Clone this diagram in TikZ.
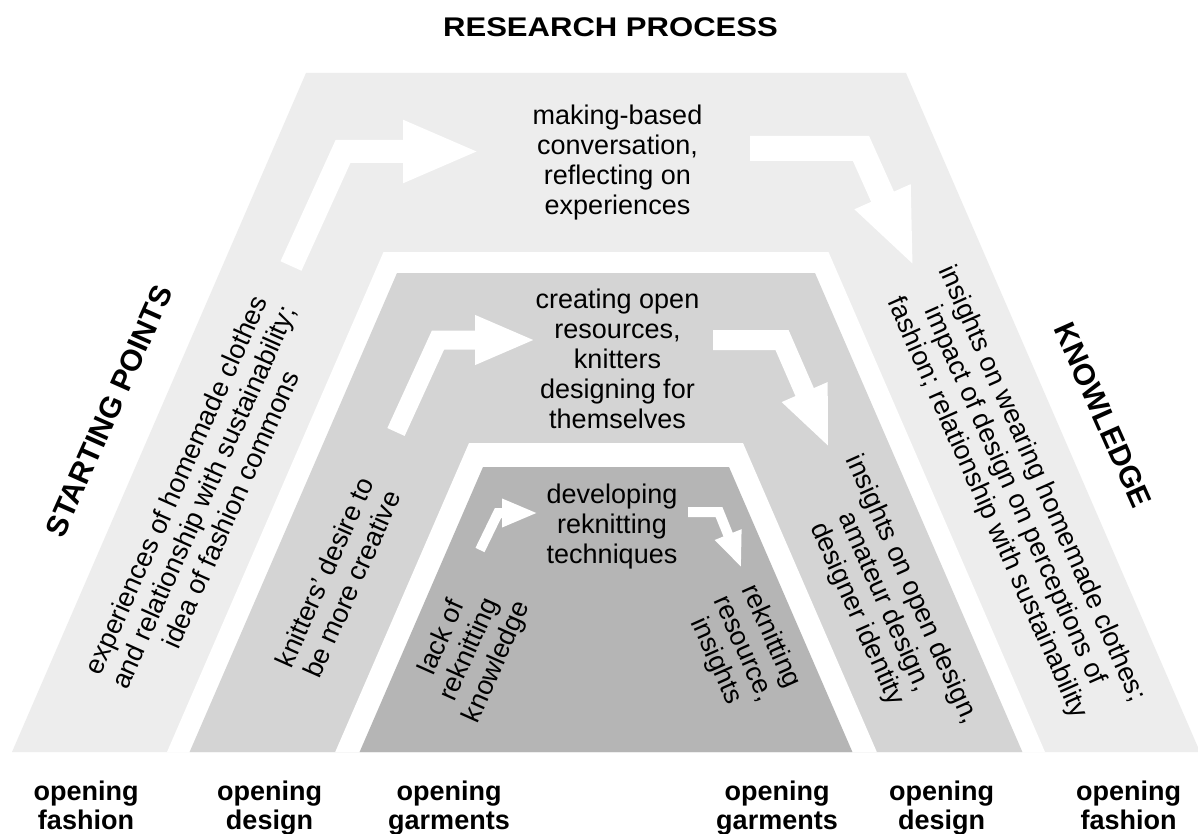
\documentclass[tikz,border=0pt]{standalone}
\usepackage{fontspec}
\setmainfont{Liberation Sans}
\newfontfamily\titlefont[FakeStretch=1.15]{Liberation Sans}
\usepackage{tikz}
\usetikzlibrary{arrows.meta}
\definecolor{bandlight}{gray}{0.93}
\definecolor{bandmid}{gray}{0.83}
\definecolor{banddark}{gray}{0.71}

\begin{document}
\begin{tikzpicture}[x=1pt,y=-1pt,
  txt/.style={font=\fontsize{27}{30}\selectfont,align=center,inner sep=0pt},
  heading/.style={font=\fontsize{27}{29}\selectfont\bfseries,align=center,inner sep=0pt},
  side/.style={font=\fontsize{30}{32}\selectfont\bfseries,inner sep=0pt},
  rise/.style={rotate=66},
  fall/.style={rotate=-66},
  flow/.style={white,line width=#1,line join=miter}]
  \useasboundingbox[fill=white] (0,0) rectangle (1198,834);
  %bands, outside in
  \fill[bandlight] (306,73) -- (906,73) -- (1200,752) -- (12,752) -- cycle;
  \fill[white] (383.5,252) -- (828.5,252) -- (1045,752) -- (167,752) -- cycle;
  \fill[bandmid] (397,273) -- (815,273) -- (1022.4,752) -- (189.6,752) -- cycle;
  \fill[white] (469,443) -- (743,443) -- (876.8,752) -- (335.2,752) -- cycle;
  \fill[banddark] (483,467) -- (729,467) -- (852.4,752) -- (359.6,752) -- cycle;

  %title
  \node[heading,font=\titlefont\bfseries\fontsize{27}{29}\selectfont,anchor=base] (process) at (610.5,37) {RESEARCH PROCESS};

  %process texts
  \node[txt] (conv) at (617.5,163) {making-based\\conversation,\\reflecting on\\experiences};
  \node[txt] (open) at (617.5,358.5) {creating open\\resources,\\knitters\\designing for\\themselves};
  \node[txt] (tech) at (612,527) {developing\\reknitting\\techniques};

  %left
  \node[side,rise] (start) at (109,411) {STARTING POINTS};
  \node[txt,rise] (homemade) at (203,497) {experiences of homemade clothes\\and relationship with sustainability;\\idea of fashion commons};
  \node[txt,rise] (desire) at (338,578) {knitters' desire to\\be more creative};
  \node[txt,rise] (lack) at (470,650) {lack of\\reknitting\\knowledge};

  %right
  \node[side,fall] (know) at (1103,415) {KNOWLEDGE};
  \node[txt,fall] (wearing) at (1014,496) {insights on wearing homemade clothes;\\impact of design on perceptions of\\fashion; relationship with sustainability};
  \node[txt,fall] (amateur) at (884,602) {insights on open design,\\amateur design,\\designer identity};
  \node[txt,fall] (resource) at (743,649) {reknitting\\resource,\\insights};

  %arrows
  \coordinate (conv-in) at (291,266);
  \coordinate (conv-bend) at (343,151.5);
  \coordinate (conv-tip) at (480,151.5);
  \draw[flow=23pt,-{Triangle[length=77pt,width=57pt]}] (conv-in) -- (conv-bend) -- (conv-tip);
  \coordinate (wear-in) at (750,148.5);
  \coordinate (wear-bend) at (861,148.5);
  \coordinate (wear-tip) at (914,267);
  \draw[flow=25pt,-{Triangle[length=77pt,width=55pt]}] (wear-in) -- (wear-bend) -- (wear-tip);
  \coordinate (open-in) at (396,432);
  \coordinate (open-bend) at (438,340);
  \coordinate (open-tip) at (536,340);
  \draw[flow=19pt,-{Triangle[length=61pt,width=45pt]}] (open-in) -- (open-bend) -- (open-tip);
  \coordinate (amat-in) at (713,340);
  \coordinate (amat-bend) at (782,340);
  \coordinate (amat-tip) at (829,448);
  \draw[flow=20pt,-{Triangle[length=61pt,width=45pt]}] (amat-in) -- (amat-bend) -- (amat-tip);
  \coordinate (tech-in) at (480,550);
  \coordinate (tech-bend) at (498,513);
  \coordinate (tech-tip) at (538,513);
  \draw[flow=10pt,-{Triangle[length=36pt,width=26pt]}] (tech-in) -- (tech-bend) -- (tech-tip);
  \coordinate (res-in) at (688,512);
  \coordinate (res-bend) at (719,512);
  \coordinate (res-tip) at (741.5,568);
  \draw[flow=10pt,-{Triangle[length=36pt,width=26pt]}] (res-in) -- (res-bend) -- (res-tip);

  %openings
  \node[heading,anchor=north] (fashion-l) at (86,781) {opening\\fashion};
  \node[heading,anchor=north] (design-l) at (269.5,781) {opening\\design};
  \node[heading,anchor=north] (garments-l) at (449,781) {opening\\garments};
  \node[heading,anchor=north] (garments-r) at (777,781) {opening\\garments};
  \node[heading,anchor=north] (design-r) at (941.5,781) {opening\\design};
  \node[heading,anchor=north] (fashion-r) at (1128.5,781) {opening\\fashion};
\end{tikzpicture}
\end{document}
